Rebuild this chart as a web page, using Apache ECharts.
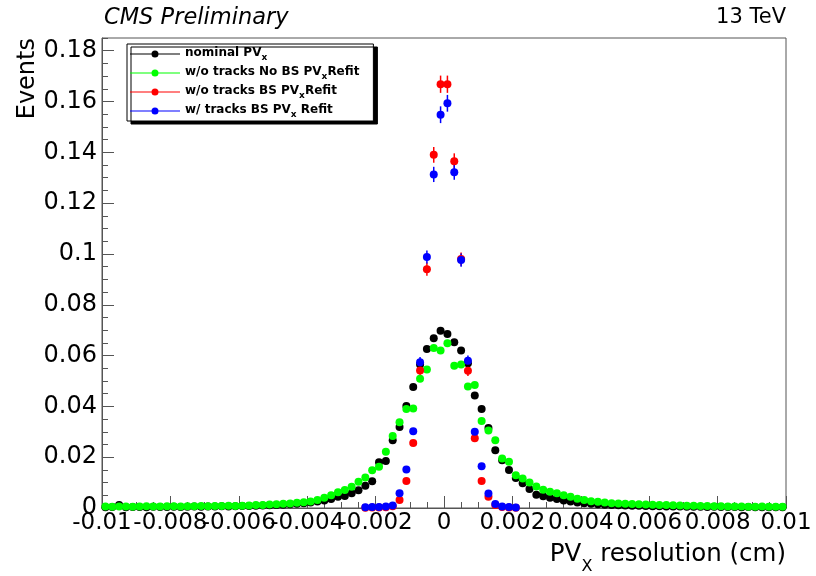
<!DOCTYPE html>
<html>
<head>
<meta charset="utf-8">
<title>PVx resolution</title>
<script src="https://cdn.jsdelivr.net/npm/echarts@6/dist/echarts.min.js"></script>
<style>
  html, body { margin: 0; padding: 0; background: #fff; }
  #chart { width: 816px; height: 576px; }
</style>
</head>
<body>
<div id="chart"></div>
<script>
// histogram binning (cm)
const binLow = -0.01;
const binWidth = 0.0002;
const nBins = 100;

// nominal PVx, one value per bin
const nominal = [
  0.0003, 0.0004, 0.0012, 0.0003, 0.0004, 0.0004, 0.0003, 0.0005, 0.0004, 0.0004,
  0.0005, 0.0004, 0.0005, 0.0006, 0.0005, 0.0006, 0.0006, 0.0007, 0.0006, 0.0007,
  0.0008, 0.0008, 0.0009, 0.0010, 0.0011, 0.0012, 0.0013, 0.0015, 0.0017, 0.0019,
  0.0022, 0.0026, 0.0030, 0.0035, 0.0044, 0.0047, 0.0058, 0.0070, 0.0088, 0.0105,
  0.0180, 0.0185, 0.0267, 0.0319, 0.0401, 0.0476, 0.0565, 0.0626, 0.0668, 0.0698,
  0.0685, 0.0652, 0.0620, 0.0570, 0.0443, 0.0390, 0.0315, 0.0227, 0.0188, 0.0150,
  0.0118, 0.0097, 0.0075, 0.0052, 0.0046, 0.0040, 0.0035, 0.0030, 0.0026, 0.0022,
  0.0019, 0.0017, 0.0015, 0.0013, 0.0012, 0.0011, 0.0010, 0.0009, 0.0009, 0.0008,
  0.0007, 0.0007, 0.0006, 0.0006, 0.0006, 0.0005, 0.0005, 0.0005, 0.0004, 0.0005,
  0.0004, 0.0004, 0.0004, 0.0003, 0.0004, 0.0003, 0.0003, 0.0003, 0.0003, 0.0003
];

// w/o tracks, no BS, refit
const noBS = [
  0.0006, 0.0005, 0.0006, 0.0006, 0.0005, 0.0006, 0.0007, 0.0006, 0.0006, 0.0007,
  0.0007, 0.0006, 0.0007, 0.0007, 0.0008, 0.0007, 0.0008, 0.0008, 0.0009, 0.0008,
  0.0009, 0.0010, 0.0012, 0.0012, 0.0014, 0.0015, 0.0017, 0.0018, 0.0021, 0.0023,
  0.0026, 0.0031, 0.0040, 0.0050, 0.0062, 0.0071, 0.0084, 0.0103, 0.0120, 0.0149,
  0.0162, 0.0221, 0.0283, 0.0338, 0.0390, 0.0392, 0.0509, 0.0545, 0.0630, 0.0620,
  0.0648, 0.0560, 0.0565, 0.0478, 0.0484, 0.0342, 0.0305, 0.0267, 0.0195, 0.0182,
  0.0129, 0.0116, 0.0100, 0.0085, 0.0072, 0.0064, 0.0058, 0.0050, 0.0044, 0.0036,
  0.0031, 0.0027, 0.0025, 0.0022, 0.0019, 0.0018, 0.0017, 0.0016, 0.0015, 0.0014,
  0.0013, 0.0012, 0.0012, 0.0011, 0.0010, 0.0009, 0.0009, 0.0008, 0.0008, 0.0007,
  0.0007, 0.0006, 0.0006, 0.0006, 0.0005, 0.0005, 0.0006, 0.0005, 0.0005, 0.0005
];

// the two BS refits are only filled near the peak, from bin 38 on
const peakFirstBin = 38;
const noTracksBS = [
  0.0001, 0.0002, 0.0002, 0.0003, 0.0007, 0.0031, 0.0106, 0.0256, 0.0541, 0.0940,
  0.1390, 0.1668, 0.1668, 0.1365, 0.0980, 0.0540, 0.0275, 0.0106, 0.0044, 0.0012,
  0.0004, 0.0002, 0.0001
];
const withTracksBS = [
  0.0003, 0.0004, 0.0004, 0.0006, 0.0010, 0.0058, 0.0152, 0.0302, 0.0574, 0.0988,
  0.1313, 0.1548, 0.1593, 0.1322, 0.0976, 0.0580, 0.0300, 0.0164, 0.0057, 0.0016,
  0.0006, 0.0004, 0.0002
];

// statistical errors that stick out of the markers (central bins, from bin 46)
const errFirstBin = 46;
const noTracksBSErr = [0.0020, 0.0026, 0.0031, 0.0034, 0.0034, 0.0031, 0.0026, 0.0020];
const withTracksBSErr = [0.0020, 0.0026, 0.0030, 0.0033, 0.0033, 0.0030, 0.0026, 0.0020];

const names = ['nominal', 'noBS', 'noTracksBS', 'withTracksBS'];
const legendLabels = {
  nominal: '{a|nominal PV}{s|x}',
  noBS: '{a|w/o tracks No BS PV}{s|x}{a|Refit}',
  noTracksBS: '{a|w/o tracks BS PV}{s|x}{a|Refit}',
  withTracksBS: '{a|w/ tracks BS PV}{s|x}{a| Refit}'
};
const colors = ['#000000', '#00ff00', '#ff0000', '#0000ff'];

const xMin = -0.01, xMax = 0.01, xStep = 0.002;
const yMin = 0, yMax = 0.185, yStep = 0.02, yMinorStep = 0.005;

const font = 'DejaVu Sans';
const frameColor = '#555';

const centers = [];
for (let i = 0; i < nBins; i++) {
  centers.push(+(binLow + (i + 0.5) * binWidth).toFixed(5));
}

function toPoints(values, firstBin) {
  const pts = [];
  values.forEach((v, k) => {
    if (v !== null) pts.push([centers[firstBin + k], v]);
  });
  return pts;
}

function toErrors(values, errs) {
  return errs.map((e, k) => {
    const bin = errFirstBin + k;
    return [centers[bin], values[bin - peakFirstBin], e];
  });
}

function errorBars(color) {
  return function (params, api) {
    const x = api.value(0);
    const y = api.value(1);
    const e = api.value(2);
    const top = api.coord([x, y + e]);
    const bot = api.coord([x, y - e]);
    return {
      type: 'line',
      shape: { x1: top[0], y1: top[1], x2: bot[0], y2: bot[1] },
      style: { stroke: color, lineWidth: 1.5 }
    };
  };
}

function scatter(name, data, color) {
  return {
    name: name,
    type: 'scatter',
    data: data,
    symbol: 'circle',
    symbolSize: 8,
    itemStyle: { color: color, opacity: 1 },
    z: 3
  };
}

var myChart = echarts.init(document.getElementById('chart'));

var option = {
  animation: false,
  textStyle: { fontFamily: font },
  grid: {
    left: 102, right: 30, top: 38, bottom: 68,
    show: true, borderColor: frameColor, borderWidth: 1
  },
  legend: {
    orient: 'vertical',
    left: 127,
    top: 44,
    data: names,
    selectedMode: false,
    icon: 'path://M0,3H50V4H0Z M21.5,3.5A3.5,3.5 0 1 1 28.5,3.5A3.5,3.5 0 1 1 21.5,3.5Z',
    itemWidth: 50,
    itemHeight: 8,
    itemGap: 4,
    padding: [3, 14, 2, 3],
    backgroundColor: '#fff',
    borderColor: '#000',
    borderWidth: 1,
    shadowColor: '#000',
    shadowBlur: 0,
    shadowOffsetX: 4,
    shadowOffsetY: 3,
    formatter: name => legendLabels[name],
    textStyle: {
      rich: {
        a: { fontFamily: font, fontWeight: 'bold', fontSize: 12, lineHeight: 14, verticalAlign: 'top', color: '#000' },
        s: { fontFamily: font, fontWeight: 'bold', fontSize: 9, lineHeight: 9, padding: [6, 0, 0, 0], verticalAlign: 'top', color: '#000' }
      }
    }
  },
  xAxis: {
    type: 'value',
    min: xMin,
    max: xMax,
    interval: xStep,
    axisLine: { show: true, onZero: false, lineStyle: { color: frameColor } },
    axisTick: { show: true, inside: true, length: 12, lineStyle: { color: frameColor } },
    minorTick: { show: true, splitNumber: 4, length: 6, lineStyle: { color: frameColor } },
    axisLabel: {
      color: '#000', fontFamily: font, fontSize: 23, margin: 4,
      showMinLabel: true, showMaxLabel: true, hideOverlap: false,
      formatter: v => String(+v.toFixed(4))
    },
    splitLine: { show: false }
  },
  yAxis: [
    {
      type: 'value',
      min: yMin,
      max: yMax,
      interval: yStep,
      axisLine: { show: true, onZero: false, lineStyle: { color: frameColor } },
      axisTick: { show: true, inside: true, length: 12, lineStyle: { color: frameColor } },
      axisLabel: {
        color: '#000', fontFamily: font, fontSize: 24, margin: 5, showMaxLabel: false,
        formatter: v => String(+v.toFixed(3))
      },
      splitLine: { show: false }
    },
    {
      type: 'value',
      min: yMin,
      max: yMax,
      interval: yMinorStep,
      position: 'left',
      axisLine: { show: false, onZero: false },
      axisTick: { show: true, inside: true, length: 6, lineStyle: { color: frameColor } },
      axisLabel: { show: false },
      splitLine: { show: false }
    }
  ],
  graphic: [
    {
      type: 'text', left: 104, top: 7,
      style: { text: 'CMS Preliminary', font: 'italic 22.5px "DejaVu Sans"', fill: '#000' }
    },
    {
      type: 'text', right: 30, top: 7,
      style: { text: '13 TeV', font: '21px "DejaVu Sans"', fill: '#000' }
    },
    {
      type: 'text', x: 28, y: 38, rotation: Math.PI / 2,
      style: { text: 'Events', font: '24px "DejaVu Sans"', align: 'right', verticalAlign: 'middle', fill: '#000' }
    },
    {
      type: 'text', x: 786, y: 542,
      style: {
        text: '{a|PV}{s|X}{a| resolution (cm)}',
        align: 'right',
        verticalAlign: 'top',
        rich: {
          a: { fontFamily: font, fontSize: 24.5, lineHeight: 26, verticalAlign: 'top', fill: '#000' },
          s: { fontFamily: font, fontSize: 16, lineHeight: 16, padding: [17, 0, 0, 0], verticalAlign: 'top', fill: '#000' }
        }
      }
    }
  ],
  series: [
    scatter('nominal', toPoints(nominal, 0), colors[0]),
    scatter('noBS', toPoints(noBS, 0), colors[1]),
    {
      type: 'custom',
      data: toErrors(noTracksBS, noTracksBSErr),
      renderItem: errorBars(colors[2]),
      z: 3
    },
    scatter('noTracksBS', toPoints(noTracksBS, peakFirstBin), colors[2]),
    {
      type: 'custom',
      data: toErrors(withTracksBS, withTracksBSErr),
      renderItem: errorBars(colors[3]),
      z: 3
    },
    scatter('withTracksBS', toPoints(withTracksBS, peakFirstBin), colors[3])
  ]
};

myChart.setOption(option);
</script>
</body>
</html>
